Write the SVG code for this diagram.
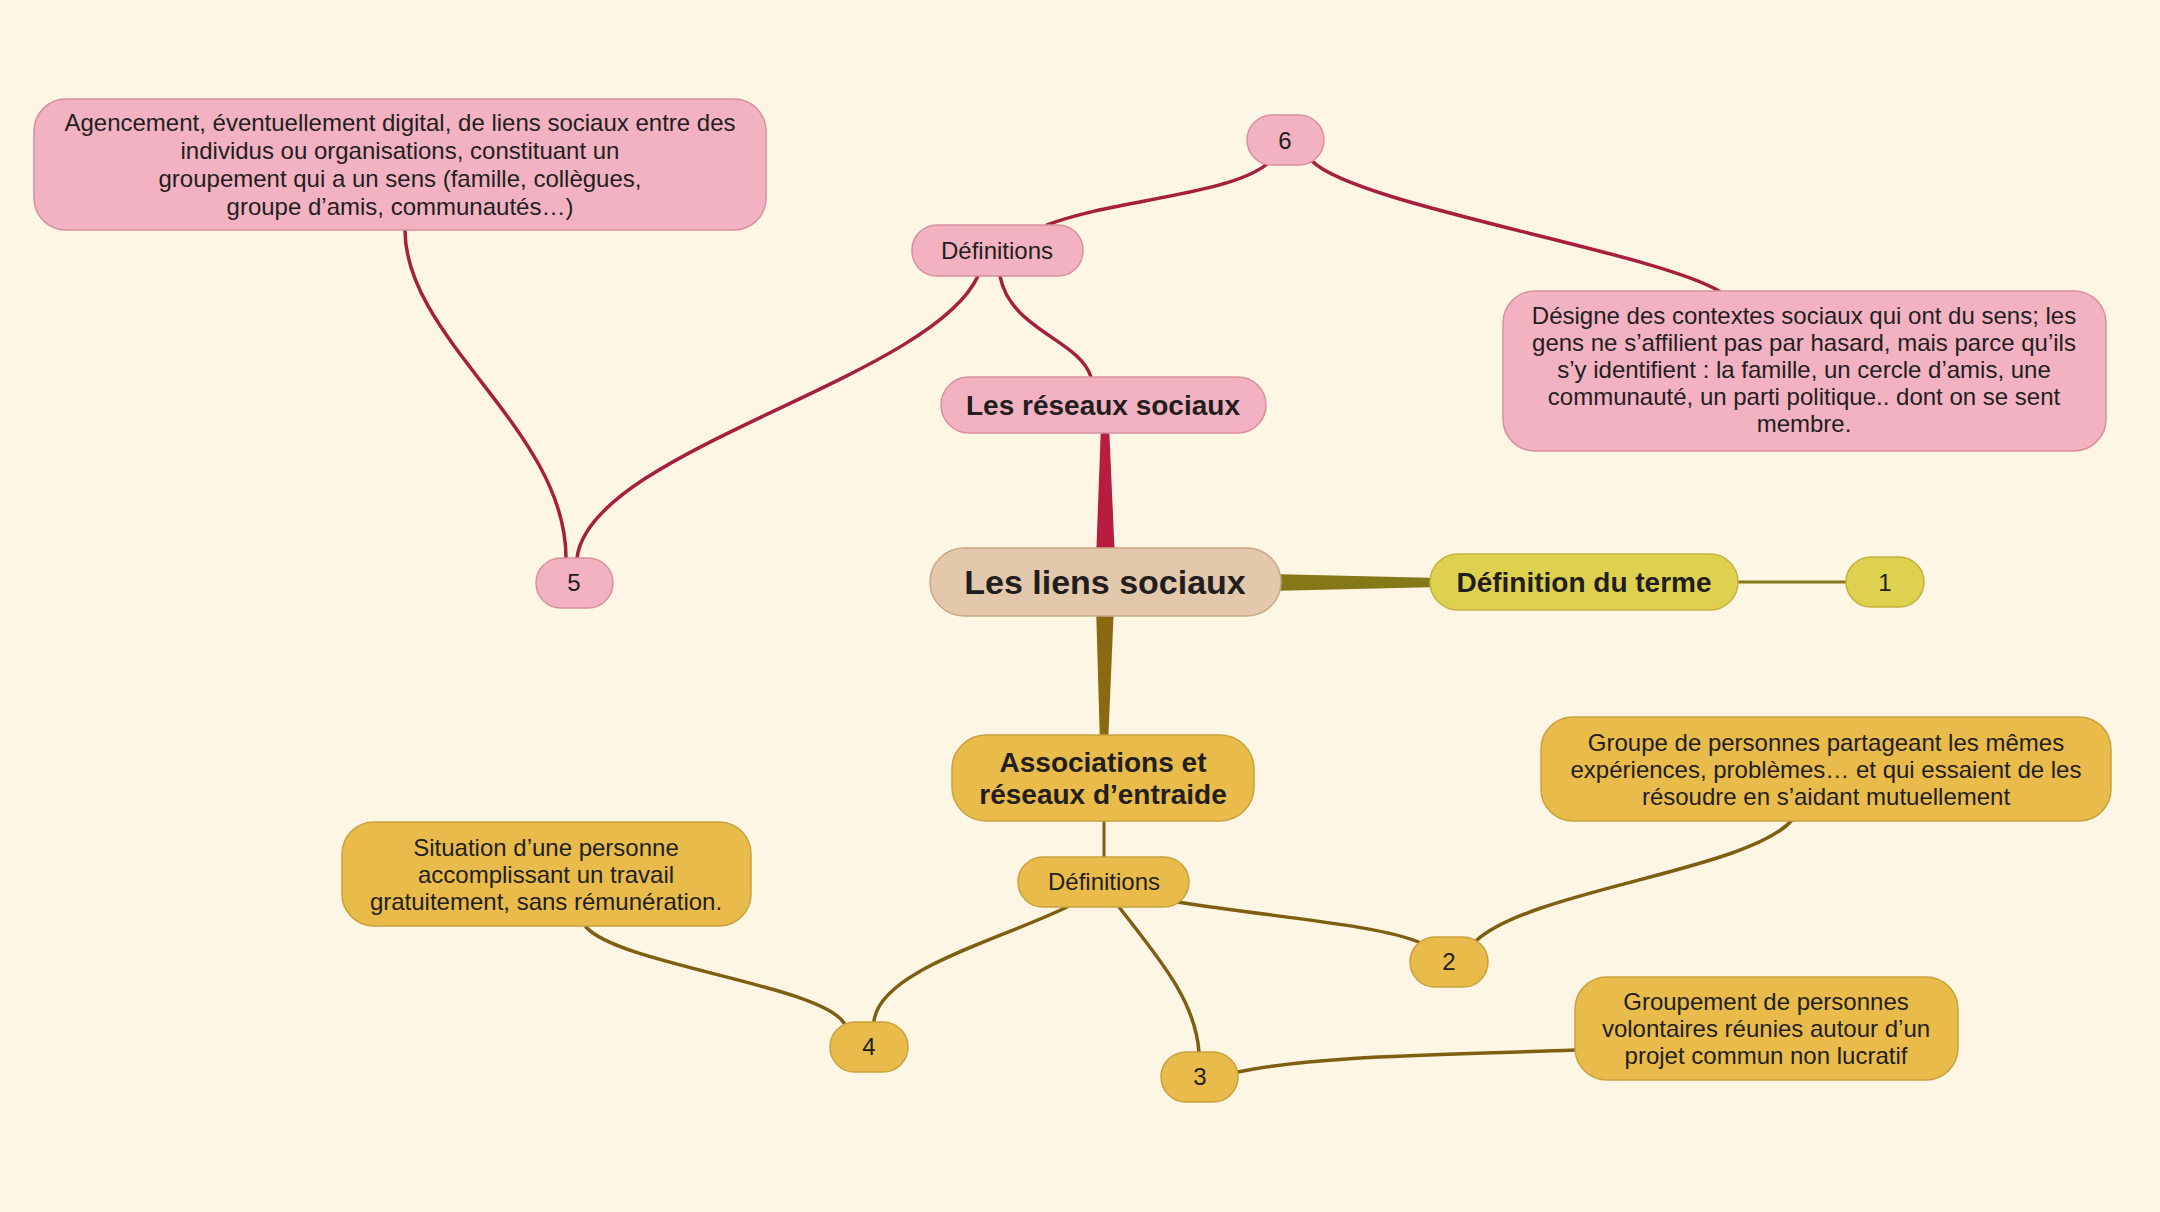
<svg xmlns="http://www.w3.org/2000/svg" width="2160" height="1212" viewBox="0 0 2160 1212">
<style>
text{font-family:"Liberation Sans",Arial,sans-serif;fill:#221e1f;text-anchor:middle}
.t{font-size:24px}
.b{font-weight:bold;font-size:28px}
.pink{fill:#f3b2c1;stroke:#d8909f;stroke-width:1.5}
.gold{fill:#e9bb4b;stroke:#c9a13e;stroke-width:1.5}
.yel{fill:#dfd150;stroke:#c2b33e;stroke-width:1.5}
.cen{fill:#e3c8ab;stroke:#c8a888;stroke-width:1.5}
.cp{fill:none;stroke:#a61f3d;stroke-width:3.5;stroke-linecap:round}
.cg{fill:none;stroke:#7e5f12;stroke-width:3.5;stroke-linecap:round}
</style>
<rect width="2160" height="1212" fill="#fef6e4"/>
<g id="connectors">
<polygon points="1096,560 1115,560 1109,425 1101,425" fill="#b81c40"/>
<polygon points="1270,574 1270,591 1440,587 1440,578" fill="#857817"/>
<polygon points="1096,605 1114,605 1108,745 1100,745" fill="#8a6912"/>
<line x1="1738" y1="582" x2="1846" y2="582" stroke="#857817" stroke-width="3"/>
<path class="cp" d="M1091,377 C1080,340 1010,330 1000,276"/>
<path class="cp" d="M978,276 C930,380 590,450 577,558"/>
<path class="cp" d="M405,230 C405,340 566,430 566,558"/>
<path class="cp" d="M1047,225 C1110,200 1230,195 1267,164"/>
<path class="cp" d="M1312,161 C1355,205 1655,252 1719,291"/>
<line x1="1104" y1="821" x2="1104" y2="857" stroke="#7e5f12" stroke-width="3"/>
<path class="cg" d="M1067,907 C1000,940 880,970 874,1021"/>
<path class="cg" d="M1119,907 C1160,960 1195,1000 1199,1052"/>
<path class="cg" d="M1177,902 C1280,918 1380,925 1421,943"/>
<path class="cg" d="M1476,941 C1530,890 1750,870 1792,820"/>
<path class="cg" d="M1238,1072 C1320,1055 1450,1055 1575,1050"/>
<path class="cg" d="M586,927 C620,965 820,985 844,1023"/>
</g>
<g id="central"><rect class="cen" x="930" y="548" width="351" height="68" rx="34"/><text x="1105" y="594" style="font-size:34px;font-weight:bold">Les liens sociaux</text></g>
<g id="definition-terme"><rect class="yel" x="1430" y="554" width="308" height="56" rx="28"/><text class="b" x="1584" y="592">Définition du terme</text></g>
<g id="n1"><rect class="yel" x="1846" y="557" width="78" height="50" rx="25"/><text class="t" x="1885" y="591">1</text></g>
<g id="reseaux"><rect class="pink" x="941" y="377" width="325" height="56" rx="28"/><text class="b" x="1103" y="415">Les réseaux sociaux</text></g>
<g id="def-pink"><rect class="pink" x="912" y="225" width="171" height="51" rx="25"/><text class="t" x="997" y="259">Définitions</text></g>
<g id="n6"><rect class="pink" x="1247" y="115" width="77" height="50" rx="25"/><text class="t" x="1285" y="149">6</text></g>
<g id="n5"><rect class="pink" x="536" y="558" width="77" height="50" rx="25"/><text class="t" x="574" y="591">5</text></g>
<g id="box-agencement"><rect class="pink" x="34" y="99" width="732" height="131" rx="32"/>
<text class="t" x="400" y="131">Agencement, éventuellement digital, de liens sociaux entre des</text>
<text class="t" x="400" y="159">individus ou organisations, constituant un</text>
<text class="t" x="400" y="187">groupement qui a un sens (famille, collègues,</text>
<text class="t" x="400" y="215">groupe d’amis, communautés…)</text></g>
<g id="box-designe"><rect class="pink" x="1503" y="291" width="603" height="160" rx="32"/>
<text class="t" x="1804" y="324">Désigne des contextes sociaux qui ont du sens; les</text>
<text class="t" x="1804" y="351">gens ne s’affilient pas par hasard, mais parce qu’ils</text>
<text class="t" x="1804" y="378">s’y identifient : la famille, un cercle d’amis, une</text>
<text class="t" x="1804" y="405">communauté, un parti politique.. dont on se sent</text>
<text class="t" x="1804" y="432">membre.</text></g>
<g id="associations"><rect class="gold" x="952" y="735" width="302" height="86" rx="34"/>
<text class="b" x="1103" y="772">Associations et</text>
<text class="b" x="1103" y="804">réseaux d’entraide</text></g>
<g id="def-gold"><rect class="gold" x="1018" y="857" width="171" height="50" rx="25"/><text class="t" x="1104" y="890">Définitions</text></g>
<g id="box-situation"><rect class="gold" x="342" y="822" width="409" height="104" rx="32"/>
<text class="t" x="546" y="856">Situation d’une personne</text>
<text class="t" x="546" y="883">accomplissant un travail</text>
<text class="t" x="546" y="910">gratuitement, sans rémunération.</text></g>
<g id="n4"><rect class="gold" x="830" y="1022" width="78" height="50" rx="25"/><text class="t" x="869" y="1055">4</text></g>
<g id="n3"><rect class="gold" x="1161" y="1052" width="77" height="50" rx="25"/><text class="t" x="1200" y="1085">3</text></g>
<g id="n2"><rect class="gold" x="1410" y="937" width="78" height="50" rx="25"/><text class="t" x="1449" y="970">2</text></g>
<g id="box-groupe"><rect class="gold" x="1541" y="717" width="570" height="104" rx="32"/>
<text class="t" x="1826" y="751">Groupe de personnes partageant les mêmes</text>
<text class="t" x="1826" y="778">expériences, problèmes… et qui essaient de les</text>
<text class="t" x="1826" y="805">résoudre en s’aidant mutuellement</text></g>
<g id="box-groupement"><rect class="gold" x="1575" y="977" width="383" height="103" rx="32"/>
<text class="t" x="1766" y="1010">Groupement de personnes</text>
<text class="t" x="1766" y="1037">volontaires réunies autour d’un</text>
<text class="t" x="1766" y="1064">projet commun non lucratif</text></g>
</svg>
